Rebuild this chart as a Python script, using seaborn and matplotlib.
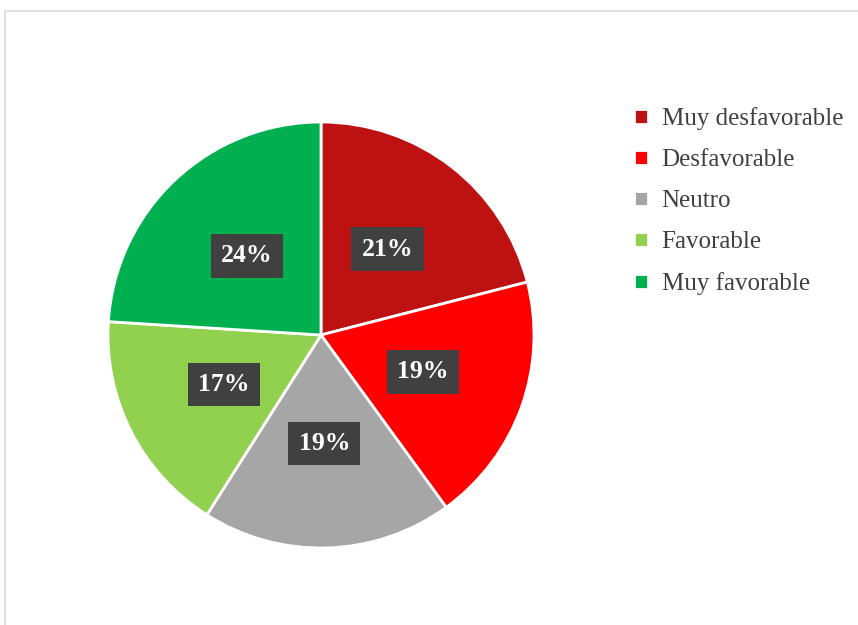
#!/usr/bin/env python3
"""Pie chart: distribución de opiniones (muy desfavorable ... muy favorable)."""

import matplotlib

matplotlib.use("Agg")
import matplotlib.pyplot as plt
import seaborn as sns
from matplotlib.patches import Rectangle

CATEGORIES = ["Muy desfavorable", "Desfavorable", "Neutro", "Favorable", "Muy favorable"]
PERCENTS = [21, 19, 19, 17, 24]
COLORS = ["#BE1212", "#FF0000", "#A6A6A6", "#92D050", "#00B050"]


def main() -> None:
    sns.set_theme(style="white")
    plt.rcParams["font.family"] = ["Liberation Serif", "DejaVu Serif"]

    fig = plt.figure(figsize=(8.58, 6.25), dpi=100)
    fig.patch.set_facecolor("white")

    # light frame around the chart area, as in the original export
    fig.patches.append(
        Rectangle((5 / 858, -0.01), 1.0, 1 - 11 / 625 + 0.01, transform=fig.transFigure,
                  fill=False, edgecolor="#D9D9D9", linewidth=1.2)
    )

    cx, cy, r = 321, 335, 213
    ax = fig.add_axes([(cx - r) / 858, (625 - cy - r) / 625, 2 * r / 858, 2 * r / 625])

    wedges, _, autotexts = ax.pie(
        PERCENTS,
        colors=sns.color_palette(COLORS),
        startangle=90,
        counterclock=False,
        autopct=lambda p: f"{p:.0f}%",
        pctdistance=0.51,
        wedgeprops=dict(edgecolor="white", linewidth=2),
        textprops=dict(color="white", fontsize=18.5, fontweight="bold"),
    )
    for t in autotexts:
        t.set_bbox(dict(boxstyle="square,pad=0.4", facecolor="#404040", edgecolor="none"))
    ax.set_aspect("equal")
    ax.set_xlim(-1, 1)
    ax.set_ylim(-1, 1)

    fig.legend(
        wedges,
        CATEGORIES,
        loc="upper left",
        bbox_to_anchor=(624 / 858, 1 - 97 / 625),
        frameon=False,
        fontsize=18,
        handlelength=0.55,
        handleheight=0.55,
        handletextpad=0.55,
        labelspacing=0.76,
        labelcolor="#404040",
        borderaxespad=0,
    )

    fig.savefig("out.png", dpi=100, facecolor="white")
    plt.close(fig)


if __name__ == "__main__":
    main()
